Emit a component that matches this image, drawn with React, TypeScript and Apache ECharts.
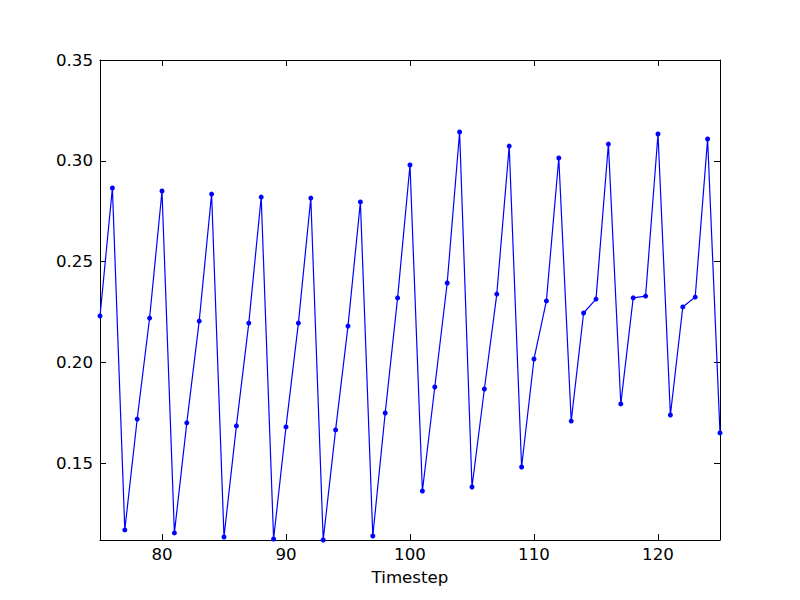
import React, { useEffect, useRef } from "react";
import * as echarts from "echarts";

const timesteps = [
  75, 76, 77, 78, 79, 80, 81, 82, 83, 84, 85, 86, 87, 88, 89, 90, 91, 92, 93, 94, 95, 96, 97, 98, 99, 100,
  101, 102, 103, 104, 105, 106, 107, 108, 109, 110, 111, 112, 113, 114, 115, 116, 117, 118, 119, 120, 121,
  122, 123, 124, 125,
];
const values = [
  0.223, 0.2865, 0.1169, 0.1719, 0.222, 0.285, 0.1154, 0.17, 0.2205, 0.2835, 0.1134, 0.1685, 0.2195, 0.282,
  0.1124, 0.168, 0.2195, 0.2815, 0.1119, 0.1665, 0.218, 0.2796, 0.1139, 0.1749, 0.232, 0.2979, 0.1362,
  0.1878, 0.2394, 0.3143, 0.1382, 0.1868, 0.2339, 0.3073, 0.1481, 0.2017, 0.2305, 0.3014, 0.1709, 0.2245,
  0.2314, 0.3083, 0.1794, 0.232, 0.2329, 0.3133, 0.1739, 0.2275, 0.2324, 0.3108, 0.165,
];
const xTicks = [80, 90, 100, 110, 120];
const yTicks = [0.15, 0.2, 0.25, 0.3, 0.35];
const xMin = 75;
const xMax = 125;
const yMin = 0.1119;
const yMax = 0.35;

const FONT = "DejaVu Sans";
const FS = 16.67;

export default function App() {
  const ref = useRef<HTMLDivElement>(null);
  useEffect(() => {
    if (!ref.current) return;
    const chart = echarts.init(ref.current, null, { renderer: "svg" });
    const data = timesteps.map((t, i) => [t, values[i]]);
    const tickStyle = { show: true, inside: true, length: 6, lineStyle: { color: "#000", width: 1 } };
    const lineStyle = { show: true, lineStyle: { color: "#000", width: 1 } };
    chart.setOption({
      animation: false,
      backgroundColor: "#fff",
      grid: { left: 100, right: 80, top: 60, bottom: 60, containLabel: false },
      xAxis: [
        {
          type: "value",
          min: xMin,
          max: xMax,
          position: "bottom",
          name: "Timestep",
          nameLocation: "middle",
          nameGap: 29,
          nameTextStyle: { fontFamily: FONT, fontSize: FS, color: "#000" },
          axisLine: { ...lineStyle, onZero: false },
          axisTick: { ...tickStyle, customValues: xTicks },
          axisLabel: {
            customValues: xTicks,
            fontFamily: FONT,
            fontSize: FS,
            color: "#000",
            margin: 6,
          },
          splitLine: { show: false },
        },
        {
          type: "value",
          min: xMin,
          max: xMax,
          position: "top",
          axisLine: { ...lineStyle, onZero: false },
          axisTick: { ...tickStyle, customValues: xTicks },
          axisLabel: { show: false },
          splitLine: { show: false },
        },
      ],
      yAxis: [
        {
          type: "value",
          min: yMin,
          max: yMax,
          position: "left",
          axisLine: { ...lineStyle, onZero: false },
          axisTick: { ...tickStyle, customValues: yTicks },
          axisLabel: {
            customValues: yTicks,
            fontFamily: FONT,
            fontSize: FS,
            color: "#000",
            margin: 7,
            formatter: (v: number) => v.toFixed(2),
          },
          splitLine: { show: false },
        },
        {
          type: "value",
          min: yMin,
          max: yMax,
          position: "right",
          axisLine: { ...lineStyle, onZero: false },
          axisTick: { ...tickStyle, customValues: yTicks },
          axisLabel: { show: false },
          splitLine: { show: false },
        },
      ],
      series: [
        {
          type: "line",
          data,
          xAxisIndex: 0,
          yAxisIndex: 0,
          clip: true,
          symbol: "circle",
          symbolSize: 5,
          showSymbol: true,
          lineStyle: { color: "#0000ff", width: 1.2 },
          itemStyle: { color: "#0000ff", borderWidth: 0 },
        },
      ],
    });
    return () => chart.dispose();
  }, []);
  return <div ref={ref} style={{ width: 800, height: 600, position: "absolute", left: 0, top: 0 }} />;
}
